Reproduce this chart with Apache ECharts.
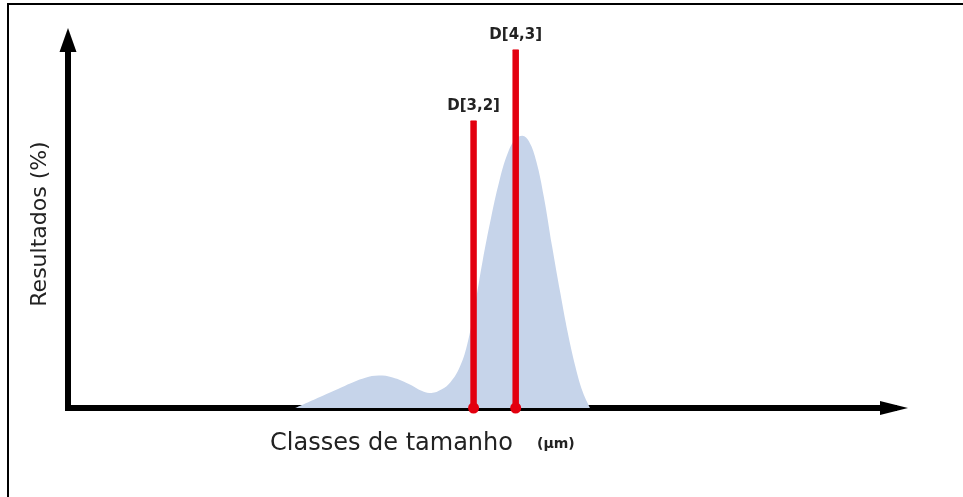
<!DOCTYPE html>
<html>
<head>
<meta charset="utf-8">
<script src="https://cdn.jsdelivr.net/npm/echarts@6/dist/echarts.min.js"></script>
<style>
  html, body { margin: 0; padding: 0; background: #fff; }
  #frame { position: absolute; left: 7px; top: 3px; width: 2000px; height: 2000px;
           border-left: 2px solid #000; border-top: 2px solid #000; }
  #chart { position: absolute; left: 0; top: 0; width: 963px; height: 497px; }
</style>
</head>
<body>
<div id="frame"></div>
<div id="chart"></div>
<script>
// Size-class distribution (arbitrary units)
const sizeClass = [27.5, 30.5, 33.5, 36.0, 37.6, 39.3, 41.2, 43.0, 44.0, 45.2, 46.3, 47.4, 48.3, 49.2, 50.2, 51.2, 52.2, 53.2, 54.2, 55.0, 55.8, 56.7, 57.6, 58.6, 59.6, 60.5, 61.4, 62.3, 63.2];
const result =    [0,    3.0,  6.0,  8.2,  8.8,  8.3,  6.6,  4.5,  4.1,  5.0,  7.0,  11.0, 17.0, 27.0, 40.0, 51.5, 61.5, 69.0, 73.2, 74.0, 72.5, 67.0, 57.5, 44.0, 31.3, 20.5, 11.5, 4.5,  0];

// Mean diameters
const markerNames = ['D[3,2]', 'D[4,3]'];
const markerX = [49.1, 54.2];
const markerTop = [78.0, 97.3];

const xLabel = 'Classes de tamanho';
const xUnit = '(µm)';
const yLabel = 'Resultados (%)';

const chart = echarts.init(document.getElementById('chart'));
const FONT = 'DejaVu Sans';

const distData = sizeClass.map((x, i) => [x, result[i]]);

const markerSeries = markerNames.map((name, i) => ({
  type: 'line',
  name: name,
  data: [
    { value: [markerX[i], 0], symbol: 'circle', symbolSize: 11 },
    { value: [markerX[i], markerTop[i]], symbol: 'rect', symbolSize: [6, 1],
      label: { show: true, formatter: name, position: 'top', distance: 7,
               fontFamily: FONT, fontSize: 15, fontWeight: 'bold', color: '#222' } }
  ],
  showSymbol: true,
  itemStyle: { color: '#e3000f' },
  lineStyle: { color: '#e3000f', width: 6.5, cap: 'butt' },
  z: 5,
  animation: false
}));

chart.setOption({
  animation: false,
  grid: { left: 68, right: 69, top: 40, bottom: 89 },
  title: [
    { text: xLabel, left: 265, top: 427,
      textStyle: { fontFamily: FONT, fontSize: 24, fontWeight: 'normal', color: '#222' } },
    { text: xUnit, left: 532, top: 432,
      textStyle: { fontFamily: FONT, fontSize: 14, fontWeight: 'bold', color: '#222' } }
  ],
  xAxis: {
    type: 'value', min: 0, max: 100,
    axisLine: { show: true, onZero: false, symbol: ['none', 'triangle'], symbolSize: [14, 28],
                lineStyle: { color: '#000', width: 6, cap: 'square' } },
    axisTick: { show: false }, axisLabel: { show: false }, splitLine: { show: false }
  },
  yAxis: {
    type: 'value', min: 0, max: 100,
    name: yLabel, nameLocation: 'middle', nameGap: 17, nameRotate: 90,
    nameTextStyle: { fontFamily: FONT, fontSize: 22, color: '#222' },
    axisLine: { show: true, onZero: false, symbol: ['none', 'triangle'], symbolSize: [17, 24],
                lineStyle: { color: '#000', width: 6, cap: 'square' } },
    axisTick: { show: false }, axisLabel: { show: false }, splitLine: { show: false }
  },
  series: [
    {
      type: 'line',
      name: 'dist',
      data: distData,
      smooth: 0.4,
      showSymbol: false,
      lineStyle: { width: 0 },
      areaStyle: { color: '#c6d4ea', opacity: 1 },
      z: 1
    }
  ].concat(markerSeries)
});
</script>
</body>
</html>
